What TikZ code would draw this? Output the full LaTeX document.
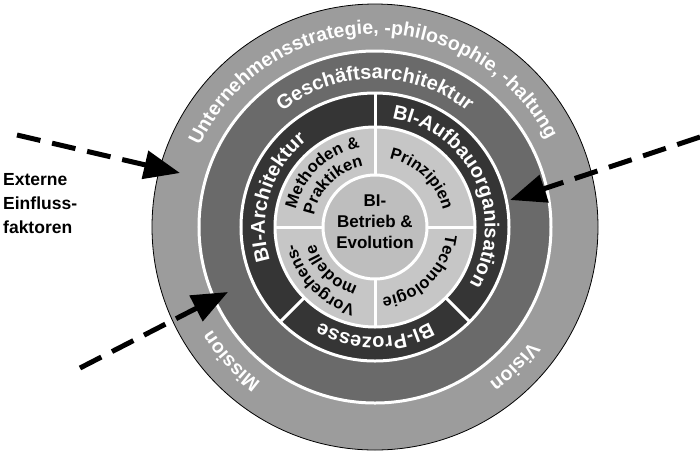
\documentclass[tikz,border=0pt]{standalone}
\usepackage{fontspec}
\setmainfont{Liberation Sans}
\usetikzlibrary{decorations.text,arrows.meta}
\definecolor{ringA}{HTML}{9C9C9C}
\definecolor{ringB}{HTML}{6A6A6A}
\definecolor{ringC}{HTML}{353535}
\definecolor{ringD}{HTML}{C6C6C6}
\definecolor{ringE}{HTML}{BEBEBE}
% #1 centre angle, #2 baseline radius, #3 colour, #4 font size, #5 text
\newcommand\myarctext[5]{%
  \path[decorate,decoration={text along path,text align=center,text color=#3,
     text={|\fontsize{#4}{#4}\selectfont\bfseries|#5}}]
     (#1+90:#2) arc[start angle=#1+90, end angle=#1-90, radius=#2];}
\begin{document}
\begin{tikzpicture}[
  whiteline/.style={draw=white, line width=3pt},
  influence/.style={line width=5pt, dash pattern=on 24pt off 12pt,
     -{Triangle[length=36pt,width=28pt]}},
  labeltext/.style={inner sep=0pt, font=\fontsize{17.5}{24}\selectfont\bfseries, align=left},
  centretext/.style={inner sep=0pt, font=\fontsize{17}{21}\selectfont\bfseries, align=center}
]
\useasboundingbox (-375pt,-224pt) rectangle (325pt,227pt);

% rings
\fill[ringA] (0,0) circle[radius=223pt];
\draw[black, line width=0.8pt] (0,0) circle[radius=223pt];
\fill[ringB] (0,0) circle[radius=176pt];
\fill[ringC] (0,0) circle[radius=134pt];
\fill[ringD] (0,0) circle[radius=100pt];
\fill[ringE] (0,0) circle[radius=52pt];
\draw[whiteline] (0,0) circle[radius=176pt];
\draw[whiteline] (0,0) circle[radius=134pt];
\draw[whiteline] (0,0) circle[radius=100pt];
\draw[whiteline] (0,0) circle[radius=52pt];
% dividers of the dark ring
\foreach \a in {90,225,315} \draw[whiteline] (\a:100pt) -- (\a:134pt);
% dividers of the inner ring
\foreach \a in {0,90,180,270} \draw[whiteline] (\a:52pt) -- (\a:100pt);

% ring texts
\myarctext{91}{193pt}{white}{19.5}{Unternehmensstrategie, -philosophie, -haltung}
\myarctext{223}{193pt}{white}{19.5}{Mission}
\myarctext{-45}{193pt}{white}{19.5}{Vision}
\myarctext{90}{148pt}{white}{20}{Geschäftsarchitektur}
\myarctext{25}{110pt}{white}{20}{BI-Aufbauorganisation}
\myarctext{163}{110pt}{white}{20}{BI-Architektur}
\myarctext{270}{110pt}{white}{20}{BI-Prozesse}
\myarctext{134}{81pt}{black}{16.5}{Methoden {\&}}
\myarctext{135}{62pt}{black}{16.5}{Praktiken}
\myarctext{46}{70pt}{black}{16.5}{Prinzipien}
\myarctext{-45}{71pt}{black}{16.5}{Technologie}
\myarctext{224}{81pt}{black}{16.5}{Vorgehens-}
\myarctext{225}{62pt}{black}{16.5}{modelle}

% centre
\node[centretext] (centre) at (0pt,5pt) {BI-\\Betrieb \&\\Evolution};

% external factors
\node[labeltext, anchor=north west] (ext) at (-372pt,54pt) {Externe\\Einfluss-\\faktoren};

\coordinate (s1) at (-358pt,92pt);
\coordinate (t1) at (-195pt,54pt);
\coordinate (s2) at (-295pt,-141pt);
\coordinate (t2) at (-147pt,-65pt);
\coordinate (s3) at (325pt,90pt);
\coordinate (t3) at (135pt,27pt);
\draw[influence] (s1) -- (t1);
\draw[influence] (s2) -- (t2);
\draw[influence] (s3) -- (t3);
\end{tikzpicture}
\end{document}
